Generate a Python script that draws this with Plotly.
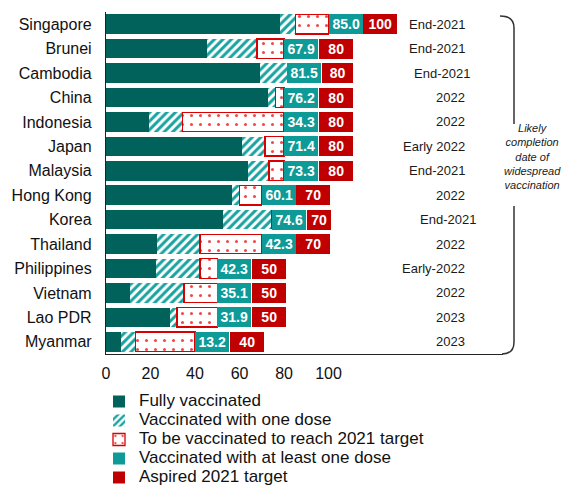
import plotly.graph_objects as go

# Vaccination progress (% of population) by economy
countries = ["Singapore", "Brunei", "Cambodia", "China", "Indonesia", "Japan", "Malaysia",
             "Hong Kong", "Korea", "Thailand", "Philippines", "Vietnam", "Lao PDR", "Myanmar"]
fully_vaccinated = [78.2, 45.4, 69.2, 73.0, 19.5, 61.3, 64.0, 56.5, 52.7, 22.8, 22.3, 10.8, 28.8, 6.6]
at_least_one_dose = [85.0, 67.9, 81.5, 76.2, 34.3, 71.4, 73.3, 60.1, 74.6, 42.3, 42.3, 35.1, 31.9, 13.2]
target_2021 = [100, 80, 80, 80, 80, 80, 80, 70, 70, 70, 50, 50, 50, 40]
completion_date = ["End-2021", "End-2021", "End-2021", "2022", "2022", "Early 2022", "End-2021",
                   "2022", "End-2021", "2022", "Early-2022", "2022", "2023", "2023"]
x_ticks = [0, 20, 40, 60, 80, 100]

# Derived segments
one_dose_only = [a - f for a, f in zip(at_least_one_dose, fully_vaccinated)]
to_target = [max(t - a, 0) for t, a in zip(target_2021, at_least_one_dose)]
bar_end = [max(t, a) for t, a in zip(target_2021, at_least_one_dose)]

# Layout geometry (pixels)
W, H = 565, 485
M_L, M_R, M_T, M_B = 106, 62, 12, 131
PLOT_W = W - M_L - M_R
PLOT_H = H - M_T - M_B
X_MAX = 178.4
PPU = PLOT_W / X_MAX          # pixels per percentage point
BOX = 15.5                     # width of each value tag, in percentage points

FONT = "Liberation Sans, Arial, sans-serif"
DARK_TEAL = "#00625B"
TEAL = "#0E9B98"
HATCH_TEAL = "#19A3A0"
RED = "#C00000"
DOT_RED = "#F04848"


def px2paper(x, y):
    return (x - M_L) / PLOT_W, (H - M_B - y) / PLOT_H


fig = go.Figure()

fig.add_trace(go.Bar(
    y=countries, x=fully_vaccinated, orientation="h",
    name='<span style="font-size:17px">Fully vaccinated</span>',
    marker=dict(color=DARK_TEAL, line=dict(width=0)),
    hovertemplate="%{y}: %{x:.1f}<extra>Fully vaccinated</extra>",
))
fig.add_trace(go.Bar(
    y=countries, x=one_dose_only, orientation="h",
    name='<span style="font-size:17px">Vaccinated with one dose</span>',
    marker=dict(color="white", line=dict(width=0),
                pattern=dict(shape="/", fgcolor=HATCH_TEAL, bgcolor="white",
                             size=6, solidity=0.5, fillmode="replace")),
    hovertemplate="%{y}: %{x:.1f}<extra>Vaccinated with one dose</extra>",
))
fig.add_trace(go.Bar(
    y=countries, x=to_target, orientation="h",
    name='<span style="font-size:17px">To be vaccinated to reach 2021 target</span>',
    marker=dict(color="white", line=dict(width=1.3, color="#D80000"),
                pattern=dict(shape=".", fgcolor=DOT_RED, bgcolor="white",
                             size=9, solidity=0.09, fillmode="replace")),
    hovertemplate="%{y}: %{x:.1f}<extra>To be vaccinated</extra>",
))
# Legend entries for the value tags
fig.add_trace(go.Bar(
    y=[None], x=[None], orientation="h",
    name='<span style="font-size:17px">Vaccinated with at least one dose</span>',
    marker=dict(color=TEAL, line=dict(width=0)),
))
fig.add_trace(go.Bar(
    y=[None], x=[None], orientation="h",
    name='<span style="font-size:17px">Aspired 2021 target</span>',
    marker=dict(color=RED, line=dict(width=0)),
))

annotations = []
BAR_PX = 19.5
for c, a, t, e in zip(countries, at_least_one_dose, target_2021, bar_end):
    overshoot = max(a - t, 0)
    annotations.append(dict(
        x=e, y=c, xref="x", yref="y", xanchor="left", yanchor="middle",
        text=f"{a:.1f}", showarrow=False, bgcolor=TEAL,
        width=BOX * PPU, height=BAR_PX, borderpad=0, borderwidth=0,
        font=dict(family=FONT, size=14, color="white", weight="bold"),
    ))
    annotations.append(dict(
        x=e, y=c, xref="x", yref="y", xanchor="left", yanchor="middle",
        xshift=BOX * PPU,
        text=f"{t}", showarrow=False, bgcolor=RED,
        width=(BOX - overshoot) * PPU, height=BAR_PX, borderpad=0, borderwidth=0,
        font=dict(family=FONT, size=14, color="white", weight="bold"),
    ))

# Completion dates, right-aligned in a column
date_x, _ = px2paper(467, 0)
date_nudge = {"Cambodia": 5, "Korea": 11}
for c, d in zip(countries, completion_date):
    annotations.append(dict(
        x=date_x, y=c, xref="paper", yref="y", xanchor="right", yanchor="middle",
        xshift=date_nudge.get(c, 0),
        text=d, showarrow=False,
        font=dict(family=FONT, size=13, color="#1a1a1a"),
    ))

# Bracket caption
cx, cy = px2paper(532, 157)
annotations.append(dict(
    x=cx, y=cy, xref="paper", yref="paper", xanchor="center", yanchor="middle",
    text="<i>Likely<br>completion<br>date of<br>widespread<br>vaccination</i>",
    showarrow=False, align="center",
    font=dict(family=FONT, size=11, color="#1a1a1a"),
))

# Right-hand bracket enclosing the date column
def P(x, y):
    px_, py_ = px2paper(x, y)
    return f"{px_:.4f},{py_:.4f}"

bracket_top = f"M{P(500, 16)} Q{P(514, 16)} {P(514, 28)} L{P(514, 124)}"
bracket_bot = f"M{P(514, 206)} L{P(514, 342)} Q{P(514, 354)} {P(502, 354)}"
shapes = [
    dict(type="path", path=bracket_top, xref="paper", yref="paper",
         line=dict(color="#333333", width=1.5)),
    dict(type="path", path=bracket_bot, xref="paper", yref="paper",
         line=dict(color="#333333", width=1.5)),
]

lx, ly = px2paper(99, 387)

fig.update_layout(
    width=W, height=H,
    margin=dict(l=M_L, r=M_R, t=M_T, b=M_B, autoexpand=False),
    barmode="stack", bargap=0.2,
    paper_bgcolor="white", plot_bgcolor="white",
    font=dict(family=FONT, color="#111111"),
    showlegend=True,
    legend=dict(x=lx, y=ly, xanchor="left", yanchor="top",
                font=dict(family=FONT, size=12, color="#111111"),
                traceorder="normal", bgcolor="rgba(0,0,0,0)"),
    annotations=annotations,
    shapes=shapes,
    xaxis=dict(range=[0, X_MAX], tickvals=x_ticks, ticktext=[str(v) for v in x_ticks],
               showgrid=False, zeroline=False, showline=True, linecolor="#222222",
               linewidth=1.3, ticks="", ticklabelstandoff=5,
               tickfont=dict(family=FONT, size=16, color="#111111")),
    yaxis=dict(autorange="reversed", showgrid=False, zeroline=False, showline=True,
               linecolor="#222222", linewidth=1.3, ticks="", ticklabelstandoff=10,
               tickfont=dict(family=FONT, size=16, color="#111111")),
)

fig.write_html("out.html")
